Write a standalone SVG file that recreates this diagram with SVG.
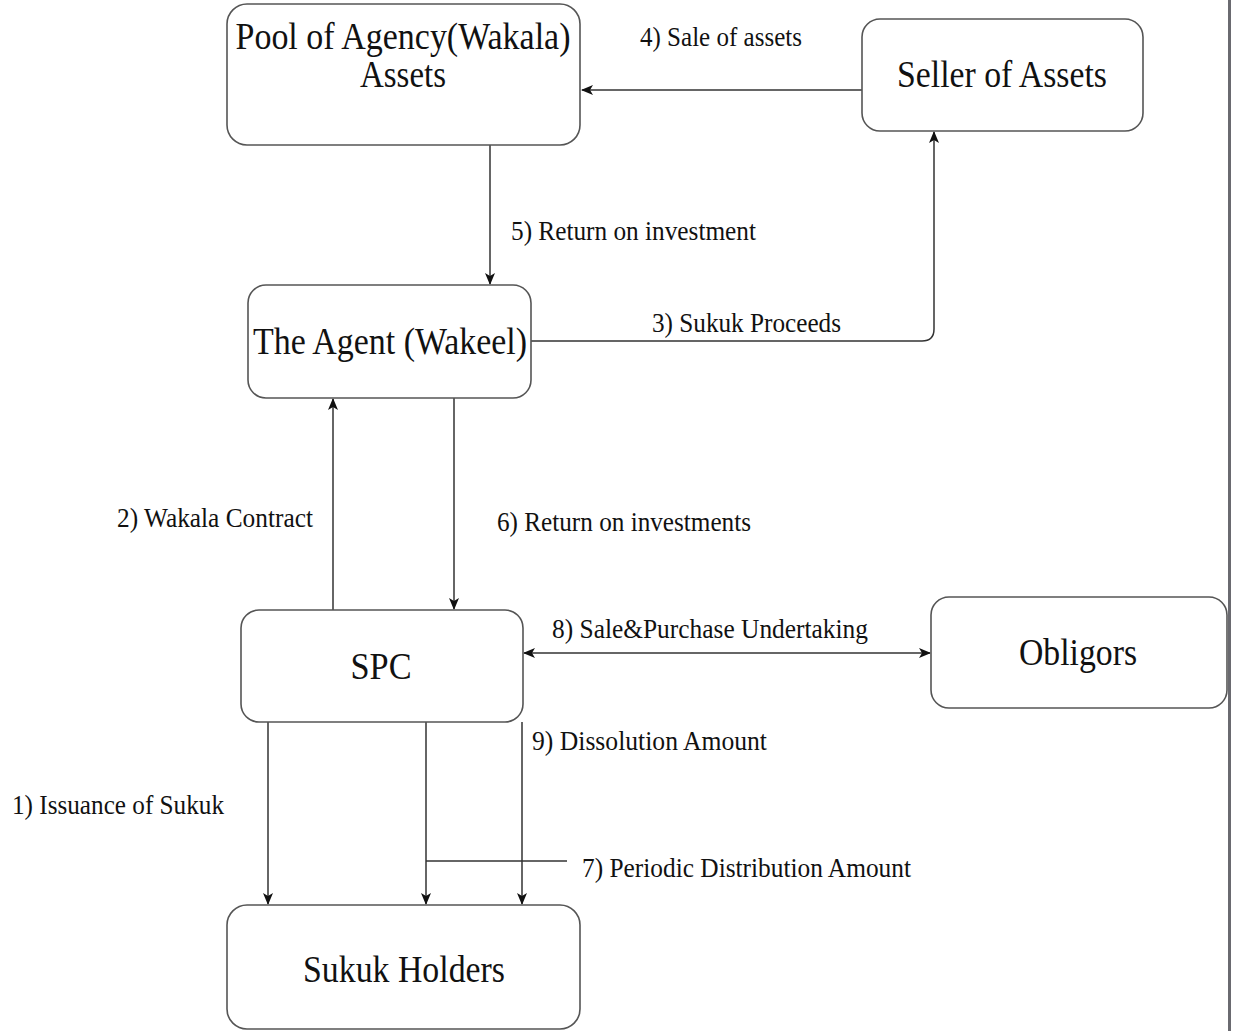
<svg xmlns="http://www.w3.org/2000/svg" width="1233" height="1031" viewBox="0 0 1233 1031">
<defs>
<style>
.box{fill:#fff;stroke:#555;stroke-width:1.6}
.nt{font-family:"Liberation Serif","Times New Roman",serif;font-size:38px;fill:#111;text-anchor:middle}
.lb{font-family:"Liberation Serif","Times New Roman",serif;font-size:27px;fill:#111}
.ln{fill:none;stroke:#333;stroke-width:1.5}
</style>
<marker id="ah" viewBox="0 0 12 10" refX="11" refY="5" markerWidth="12" markerHeight="10" markerUnits="userSpaceOnUse" orient="auto-start-reverse">
<path d="M0,0 L12,5 L0,10 L3,5 Z" fill="#111"/>
</marker>
</defs>
<rect width="1233" height="1031" fill="#fff"/>
<rect x="1228" y="0" width="3" height="1031" fill="#6a6a70"/>

<g id="connectors">
<path class="ln" d="M862,90 H582" marker-end="url(#ah)"/>
<path class="ln" d="M490,145 V284" marker-end="url(#ah)"/>
<path class="ln" d="M531,341 H922 Q934,341 934,329 V132" marker-end="url(#ah)"/>
<path class="ln" d="M333,610 V399" marker-end="url(#ah)"/>
<path class="ln" d="M454,398 V609" marker-end="url(#ah)"/>
<path class="ln" d="M524,653 H930" marker-start="url(#ah)" marker-end="url(#ah)"/>
<path class="ln" d="M268,722 V904" marker-end="url(#ah)"/>
<path class="ln" d="M426,722 V904" marker-end="url(#ah)"/>
<path class="ln" d="M426,861 H567"/>
<path class="ln" d="M522,722 V904" marker-end="url(#ah)"/>
<text class="lb" x="640" y="46" textLength="162" lengthAdjust="spacingAndGlyphs">4) Sale of assets</text>
<text class="lb" x="511" y="240" textLength="245" lengthAdjust="spacingAndGlyphs">5) Return on investment</text>
<text class="lb" x="652" y="332" textLength="189" lengthAdjust="spacingAndGlyphs">3) Sukuk Proceeds</text>
<text class="lb" x="117" y="527" textLength="196" lengthAdjust="spacingAndGlyphs">2) Wakala Contract</text>
<text class="lb" x="497" y="531" textLength="254" lengthAdjust="spacingAndGlyphs">6) Return on investments</text>
<text class="lb" x="552" y="638" textLength="316" lengthAdjust="spacingAndGlyphs">8) Sale&amp;Purchase Undertaking</text>
<text class="lb" x="532" y="750" textLength="235" lengthAdjust="spacingAndGlyphs">9) Dissolution Amount</text>
<text class="lb" x="12" y="814" textLength="212" lengthAdjust="spacingAndGlyphs">1) Issuance of Sukuk</text>
<text class="lb" x="582" y="877" textLength="329" lengthAdjust="spacingAndGlyphs">7) Periodic Distribution Amount</text>
</g>

<g id="pool">
<rect class="box" x="227" y="4" width="353" height="141" rx="20"/>
<text class="nt" x="403" y="49" textLength="335" lengthAdjust="spacingAndGlyphs">Pool of Agency(Wakala)</text>
<text class="nt" x="403" y="87" textLength="86" lengthAdjust="spacingAndGlyphs">Assets</text>
</g>
<g id="seller">
<rect class="box" x="862" y="19" width="281" height="112" rx="18"/>
<text class="nt" x="1002" y="87" textLength="210" lengthAdjust="spacingAndGlyphs">Seller of Assets</text>
</g>
<g id="agent">
<rect class="box" x="248" y="285" width="283" height="113" rx="18"/>
<text class="nt" x="390" y="354" textLength="274" lengthAdjust="spacingAndGlyphs">The Agent (Wakeel)</text>
</g>
<g id="spc">
<rect class="box" x="241" y="610" width="282" height="112" rx="18"/>
<text class="nt" x="381" y="679" textLength="61" lengthAdjust="spacingAndGlyphs">SPC</text>
</g>
<g id="obligors">
<rect class="box" x="931" y="597" width="296" height="111" rx="18"/>
<text class="nt" x="1078" y="665" textLength="118" lengthAdjust="spacingAndGlyphs">Obligors</text>
</g>
<g id="holders">
<rect class="box" x="227" y="905" width="353" height="124" rx="20"/>
<text class="nt" x="404" y="982" textLength="202" lengthAdjust="spacingAndGlyphs">Sukuk Holders</text>
</g>
</svg>
